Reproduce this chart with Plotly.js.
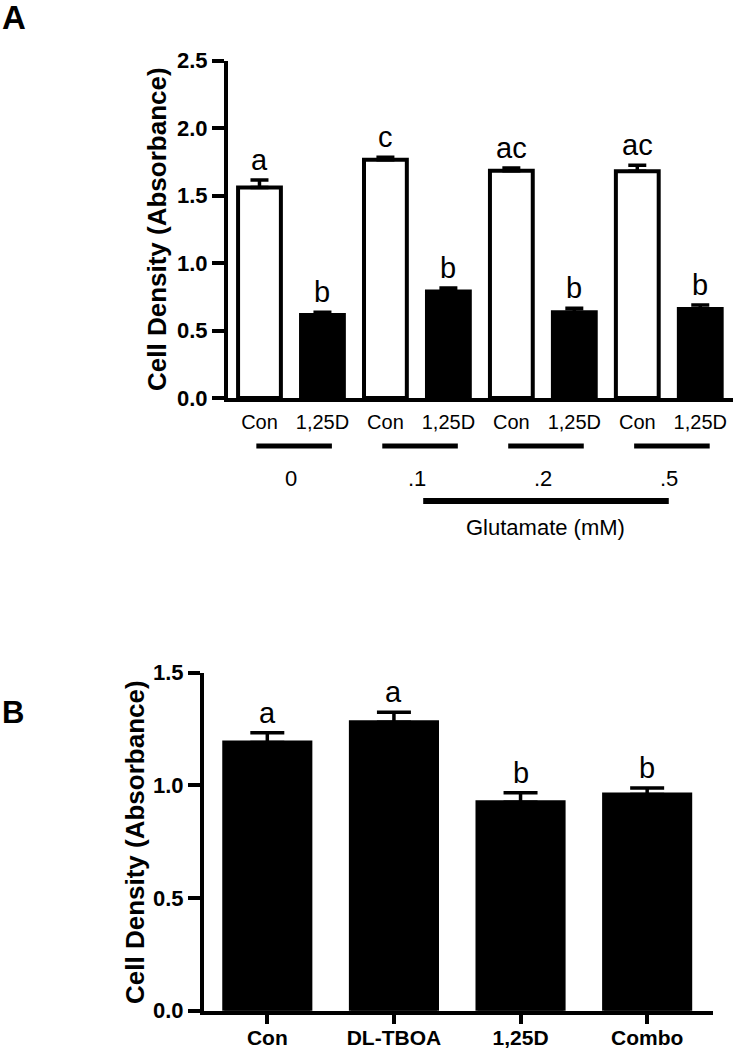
<!DOCTYPE html>
<html>
<head>
<meta charset="utf-8">
<script src="https://cdn.plot.ly/plotly-3.0.1.min.js"></script>
<style>html,body{margin:0;padding:0;background:#fff;}#chart{width:736px;height:1050px;}</style>
</head>
<body>
<div id="chart"></div>
<script>
// ---------- Data (panel A) ----------
const doseGroupsA = ['0', '.1', '.2', '.5'];
const treatmentsA = ['Con', '1,25D'];
const conA = [1.56, 1.765, 1.685, 1.68];
const conAErr = [0.055, 0.02, 0.02, 0.045];
const vitDA = [0.615, 0.79, 0.635, 0.66];
const vitDAErr = [0.02, 0.025, 0.03, 0.03];
const lettersConA = ['a', 'c', 'ac', 'ac'];
const lettersVitDA = ['b', 'b', 'b', 'b'];
const glutamateLabel = 'Glutamate (mM)';

// ---------- Data (panel B) ----------
const categoriesB = ['Con', 'DL-TBOA', '1,25D', 'Combo'];
const valuesB = [1.19, 1.28, 0.925, 0.96];
const errorsB = [0.043, 0.045, 0.042, 0.028];
const lettersB = ['a', 'a', 'b', 'b'];

const yTitle = 'Cell Density (Absorbance)';

// ---------- Layout helpers ----------
const W = 736, H = 1050;
const px = v => v / W;
const py = v => 1 - v / H;
const FONT = 'Liberation Sans, Arial, Helvetica, sans-serif';

// positions in panel A: Con at 2k, 1,25D at 2k+1
const conPos = conA.map((_, i) => 2 * i);
const vitDPos = vitDA.map((_, i) => 2 * i + 1);
const tickValsA = [];
const tickTextA = [];
doseGroupsA.forEach((_, i) => {
  treatmentsA.forEach((t, j) => { tickValsA.push(2 * i + j); tickTextA.push(t); });
});
const posB = categoriesB.map((_, i) => i);

const traces = [
  {
    type: 'bar', x: conPos, y: conA, width: 0.68,
    marker: { color: '#ffffff', line: { color: '#000', width: 4 } },
    error_y: { type: 'data', array: conAErr, arrayminus: conAErr.map(() => 0), symmetric: false, color: '#000', thickness: 3.5, width: 9 },
    xaxis: 'x', yaxis: 'y', showlegend: false, hoverinfo: 'skip'
  },
  {
    type: 'bar', x: vitDPos, y: vitDA, width: 0.68,
    marker: { color: '#000000', line: { color: '#000', width: 4 } },
    error_y: { type: 'data', array: vitDAErr, arrayminus: vitDAErr.map(() => 0), symmetric: false, color: '#000', thickness: 3.5, width: 9 },
    xaxis: 'x', yaxis: 'y', showlegend: false, hoverinfo: 'skip'
  },
  {
    type: 'bar', x: posB, y: valuesB, width: 0.68,
    marker: { color: '#000000', line: { color: '#000', width: 4 } },
    error_y: { type: 'data', array: errorsB, arrayminus: errorsB.map(() => 0), symmetric: false, color: '#000', thickness: 3.5, width: 17 },
    xaxis: 'x2', yaxis: 'y2', showlegend: false, hoverinfo: 'skip'
  }
];

const annotations = [];
// significance letters
conA.forEach((v, i) => annotations.push({ xref: 'x', yref: 'y', x: conPos[i], y: v + conAErr[i], text: lettersConA[i], showarrow: false, yanchor: 'bottom', yshift: 2, font: { family: FONT, size: 29, color: '#000' } }));
vitDA.forEach((v, i) => annotations.push({ xref: 'x', yref: 'y', x: vitDPos[i], y: v + vitDAErr[i], text: lettersVitDA[i], showarrow: false, yanchor: 'bottom', yshift: 2, font: { family: FONT, size: 29, color: '#000' } }));
valuesB.forEach((v, i) => annotations.push({ xref: 'x2', yref: 'y2', x: posB[i], y: v + errorsB[i], text: lettersB[i], showarrow: false, yanchor: 'bottom', yshift: 2, font: { family: FONT, size: 29, color: '#000' } }));

// dose group labels
doseGroupsA.forEach((g, i) => annotations.push({ xref: 'x', yref: 'paper', x: 2 * i + 0.5, y: py(478), text: g, showarrow: false, yanchor: 'middle', font: { family: FONT, size: 22, color: '#000' } }));
annotations.push({ xref: 'x', yref: 'paper', x: 4.55, y: py(527), text: glutamateLabel, showarrow: false, yanchor: 'middle', font: { family: FONT, size: 22, color: '#000' } });

// y axis titles
annotations.push({ xref: 'paper', yref: 'paper', x: px(157), y: py(229), text: '<b>' + yTitle + '</b>', textangle: -90, showarrow: false, xanchor: 'center', yanchor: 'middle', font: { family: FONT, size: 26, color: '#000' } });
annotations.push({ xref: 'paper', yref: 'paper', x: px(135), y: py(842), text: '<b>' + yTitle + '</b>', textangle: -90, showarrow: false, xanchor: 'center', yanchor: 'middle', font: { family: FONT, size: 26, color: '#000' } });

// panel letters
annotations.push({ xref: 'paper', yref: 'paper', x: 0, y: py(17), text: '<b>A</b>', showarrow: false, xanchor: 'left', yanchor: 'middle', font: { family: FONT, size: 33, color: '#000' } });
annotations.push({ xref: 'paper', yref: 'paper', x: 0, y: py(712), text: '<b>B</b>', showarrow: false, xanchor: 'left', yanchor: 'middle', font: { family: FONT, size: 31, color: '#000' } });

const shapes = [];
doseGroupsA.forEach((_, i) => shapes.push({ type: 'line', xref: 'x', yref: 'paper', x0: 2 * i - 0.05, x1: 2 * i + 1.15, y0: py(446), y1: py(446), line: { color: '#000', width: 5 } }));
shapes.push({ type: 'line', xref: 'x', yref: 'paper', x0: 2.6, x1: 6.5, y0: py(501), y1: py(501), line: { color: '#000', width: 6 } });

const axisCommon = {
  showgrid: false, zeroline: false, showline: true, linecolor: '#000', linewidth: 4,
  tickcolor: '#000', fixedrange: true
};

const layout = {
  width: W, height: H,
  margin: { l: 0, r: 0, t: 0, b: 0, pad: 0 },
  paper_bgcolor: '#fff', plot_bgcolor: '#fff',
  showlegend: false,
  bargap: 0,
  xaxis: Object.assign({}, axisCommon, {
    domain: [px(228), px(733)], range: [-0.5, 7.52], anchor: 'y',
    tickmode: 'array', tickvals: tickValsA, ticktext: tickTextA,
    ticks: '', ticklabelstandoff: 3,
    tickfont: { family: FONT, size: 20, color: '#000' }
  }),
  yaxis: Object.assign({}, axisCommon, {
    domain: [py(398), py(60.7)], range: [0, 2.5], anchor: 'x',
    tickmode: 'linear', tick0: 0, dtick: 0.5, tickformat: '.1f',
    ticks: 'outside', ticklen: 12, tickwidth: 4,
    tickfont: { family: FONT, size: 22, color: '#000', weight: 'bold' }
  }),
  xaxis2: Object.assign({}, axisCommon, {
    domain: [px(204), px(713)], range: [-0.5, 3.52], anchor: 'y2',
    tickmode: 'array', tickvals: posB, ticktext: categoriesB,
    ticks: 'outside', ticklen: 9, tickwidth: 4, ticklabelstandoff: -4,
    tickfont: { family: FONT, size: 21, color: '#000', weight: 'bold' }
  }),
  yaxis2: Object.assign({}, axisCommon, {
    domain: [py(1010.7), py(672.7)], range: [0, 1.5], anchor: 'x2',
    tickmode: 'linear', tick0: 0, dtick: 0.5, tickformat: '.1f',
    ticks: 'outside', ticklen: 12, tickwidth: 4,
    tickfont: { family: FONT, size: 22, color: '#000', weight: 'bold' }
  }),
  annotations: annotations,
  shapes: shapes
};

Plotly.newPlot('chart', traces, layout, { staticPlot: true, displayModeBar: false });
</script>
</body>
</html>
